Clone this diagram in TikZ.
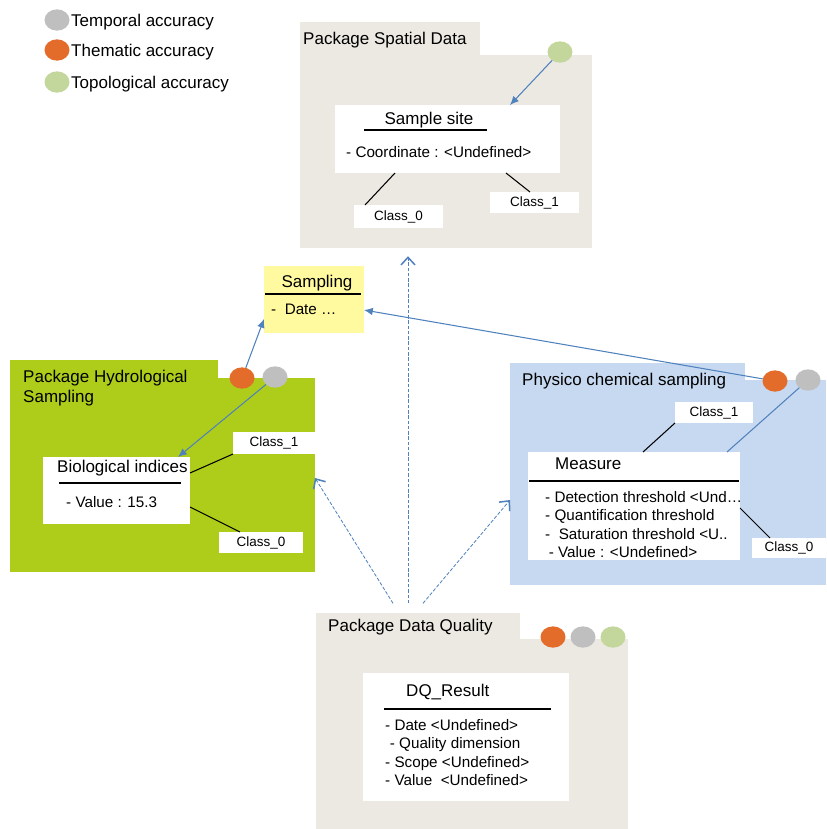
\documentclass[tikz,border=0pt]{standalone}
\usepackage{fontspec}
\setmainfont{Liberation Sans}
\usetikzlibrary{shapes.geometric,arrows.meta,calc}

\begin{document}
\begin{tikzpicture}[x=0.03cm, y=-0.03cm,
  qdot/.style={ellipse, inner sep=0pt, outer sep=0pt, minimum width=0.75cm, minimum height=0.64cm},
  pkg/.style={inner sep=0pt, outer sep=0pt},
  whitebox/.style={fill=white, inner sep=0pt, outer sep=0pt},
  classbox/.style={whitebox, font=\fontsize{11.5}{13}\selectfont},
  legtext/.style={inner sep=0pt, anchor=west, font=\fontsize{14.5}{17}\selectfont},
  pkgtitle/.style={inner sep=0pt, anchor=west, align=left, font=\fontsize{14.5}{17}\selectfont},
  attr/.style={inner sep=0pt, anchor=west, align=left, font=\fontsize{13}{15.6}\selectfont},
  link/.style={draw=black, line width=0.9pt},
  underline/.style={draw=black, line width=1.2pt},
  assoc/.style={draw=arrowblue, line width=0.9pt, -{Latex[length=7.5pt,width=6.5pt]}},
  depend/.style={draw=arrowblue, line width=0.7pt, dash pattern=on 3pt off 1.5pt,
    -{Straight Barb[length=6.5pt,width=12pt,line width=1.3pt]}}]
  \useasboundingbox (0,0) rectangle (826,829);

  \colorlet{tempgrey}{black!25!white}
  \definecolor{themorange}{RGB}{228,108,42}
  \definecolor{topogreen}{RGB}{195,214,155}
  \definecolor{spatialgrey}{RGB}{236,233,226}
  \definecolor{hydrogreen}{RGB}{174,205,26}
  \definecolor{chemblue}{RGB}{198,217,241}
  \definecolor{sampyellow}{RGB}{255,250,160}
  \definecolor{arrowblue}{RGB}{79,129,189}

  % legend
  \foreach \n/\y/\c/\t in {tmp/20/tempgrey/Temporal accuracy,
    thm/50/themorange/Thematic accuracy,
    top/82/topogreen/Topological accuracy}{
      \node (leg-\n) [qdot, fill=\c] at (57,\y) {};
      \node (legtxt-\n) [legtext] at (71,\y+2) {\t};
    }

  % packages
  \node (stab) [pkg, fill=spatialgrey, minimum width=5.4cm, minimum height=0.99cm] at (390,38.5) {};
  \node (sbody) [pkg, fill=spatialgrey, minimum width=8.76cm, minimum height=5.79cm] at (446,151.5) {};
  \node (htab) [pkg, fill=hydrogreen, minimum width=6.24cm, minimum height=0.56cm] at (114,369) {};
  \node (hbody) [pkg, fill=hydrogreen, minimum width=9.15cm, minimum height=5.82cm] at (162.5,475) {};
  \node (ptab) [pkg, fill=chemblue, minimum width=7.05cm, minimum height=0.53cm] at (627.5,371.5) {};
  \node (pbody) [pkg, fill=chemblue, minimum width=9.48cm, minimum height=6.15cm] at (668,482.5) {};
  \node (qtab) [pkg, fill=spatialgrey, minimum width=6.12cm, minimum height=0.8cm] at (418,626) {};
  \node (qbody) [pkg, fill=spatialgrey, minimum width=9.36cm, minimum height=5.7cm] at (472,734) {};

  \node (stitle) [pkgtitle] at (303,40) {Package Spatial Data};
  \node (htitle) [pkgtitle] at (23,388) {Package Hydrological\\Sampling};
  \node (ptitle) [pkgtitle] at (522,381) {Physico chemical sampling};
  \node (qtitle) [pkgtitle] at (328,627) {Package Data Quality};

  % classes
  \node (site) [whitebox, minimum width=6.75cm, minimum height=2.04cm] at (447.5,139) {};
  \node (sitename) [pkgtitle, anchor=center] at (429,120) {Sample site};
  \draw[underline] (364,130) -- (487,130);
  \node (siteattr) [attr] at (346,152) {- Coordinate : <Undefined>};
  \node (spc0) [classbox, minimum width=2.67cm, minimum height=0.69cm] at (398.5,216.5) {Class\_0};
  \node (spc1) [classbox, minimum width=2.67cm, minimum height=0.63cm] at (534.5,202.5) {Class\_1};

  \node (samp) [pkg, fill=sampyellow, minimum width=3cm, minimum height=2.01cm] at (314,299.5) {};
  \node (sampname) [pkgtitle, anchor=center] at (317,283) {Sampling};
  \draw[underline] (265,294) -- (361,294);
  \node (sampattr) [attr] at (271,309) {-\ \ Date …};

  \node (bio) [whitebox, minimum width=4.41cm, minimum height=2.01cm] at (116.5,490.5) {};
  \node (bioname) [pkgtitle] at (57,468) {Biological indices};
  \draw[underline] (59,483) -- (181,483);
  \node (bioattr) [attr] at (66,502) {- Value : 15.3};
  \node (hyc1) [classbox, minimum width=2.46cm, minimum height=0.66cm] at (274,443) {Class\_1};
  \node (hyc0) [classbox, minimum width=2.52cm, minimum height=0.63cm] at (261,542.5) {Class\_0};

  \node (meas) [whitebox, minimum width=6.36cm, minimum height=3.24cm] at (634,506) {};
  \node (measname) [pkgtitle] at (555,464) {Measure};
  \draw[underline] (529,481) -- (739,481);
  \node (measattr) [attr] at (545,524.5) {- Detection threshold <Und…\\- Quantification threshold\\-\ \ Saturation threshold <U..\\\hspace*{3pt}- Value : <Undefined>};
  \node (phc1) [classbox, minimum width=2.34cm, minimum height=0.63cm] at (714,412.5) {Class\_1};
  \node (phc0) [classbox, minimum width=2.22cm, minimum height=0.6cm] at (789,548) {Class\_0};

  \node (dq) [whitebox, minimum width=6.18cm, minimum height=3.84cm] at (466,737) {};
  \node (dqname) [pkgtitle] at (406,692) {DQ\_Result};
  \draw[underline] (384,709) -- (551,709);
  \node (dqattr) [attr] at (385,752.5) {- Date <Undefined>\\\hspace*{4pt}- Quality dimension\\- Scope <Undefined>\\- Value\ \ <Undefined>};

  % quality markers
  \node (sgreen) [qdot, fill=topogreen] at (560,52) {};
  \node (horange) [qdot, fill=themorange] at (242,378) {};
  \node (hgrey) [qdot, fill=tempgrey] at (275,377) {};
  \node (porange) [qdot, fill=themorange] at (775,381) {};
  \node (pgrey) [qdot, fill=tempgrey] at (808,380) {};
  \foreach \n/\x/\c in {orange/553/themorange, grey/583/tempgrey, green/613/topogreen}
    \node (q\n) [qdot, fill=\c] at (\x,637) {};

  % draw links after filling
  \draw[link] (site.south -| 395,0) -- (spc0.north -| 365,0);
  \draw[link] (site.south -| 506,0) -- (spc1.north -| 530,0);
  \draw[link] (bio.east |- 0,473) -- (hyc1.south west);
  \draw[link] (bio.east |- 0,507) -- (hyc0.north -| 240,0);
  \draw[link] (meas.north -| 643,0) -- (phc1.south west);
  \draw[link] (meas.east |- 0,508) -- (phc0.north -| 770,0);

  \draw[assoc] (sgreen) -- (site.north -| 510,0);
  \draw[assoc] (horange) -- (samp.west |- 0,319);
  \draw[assoc] (hgrey) -- (bio.north -| 178,0);
  \draw[assoc] (porange) -- (samp.east |- 0,310);
  \draw[draw=arrowblue, line width=0.9pt] (pgrey) -- (meas.north -| 727,0);

  \coordinate (dqtop) at ([yshift=8pt]qtab.north);
  \draw[depend, shorten >=7pt] (dqtop -| 408,0) -- (sbody.south -| 408,0);
  \draw[depend] (dqtop -| 393,0) -- (hbody.east |- 0,478);
  \draw[depend] (dqtop -| 423,0) -- (pbody.west |- 0,500);
\end{tikzpicture}
\end{document}
